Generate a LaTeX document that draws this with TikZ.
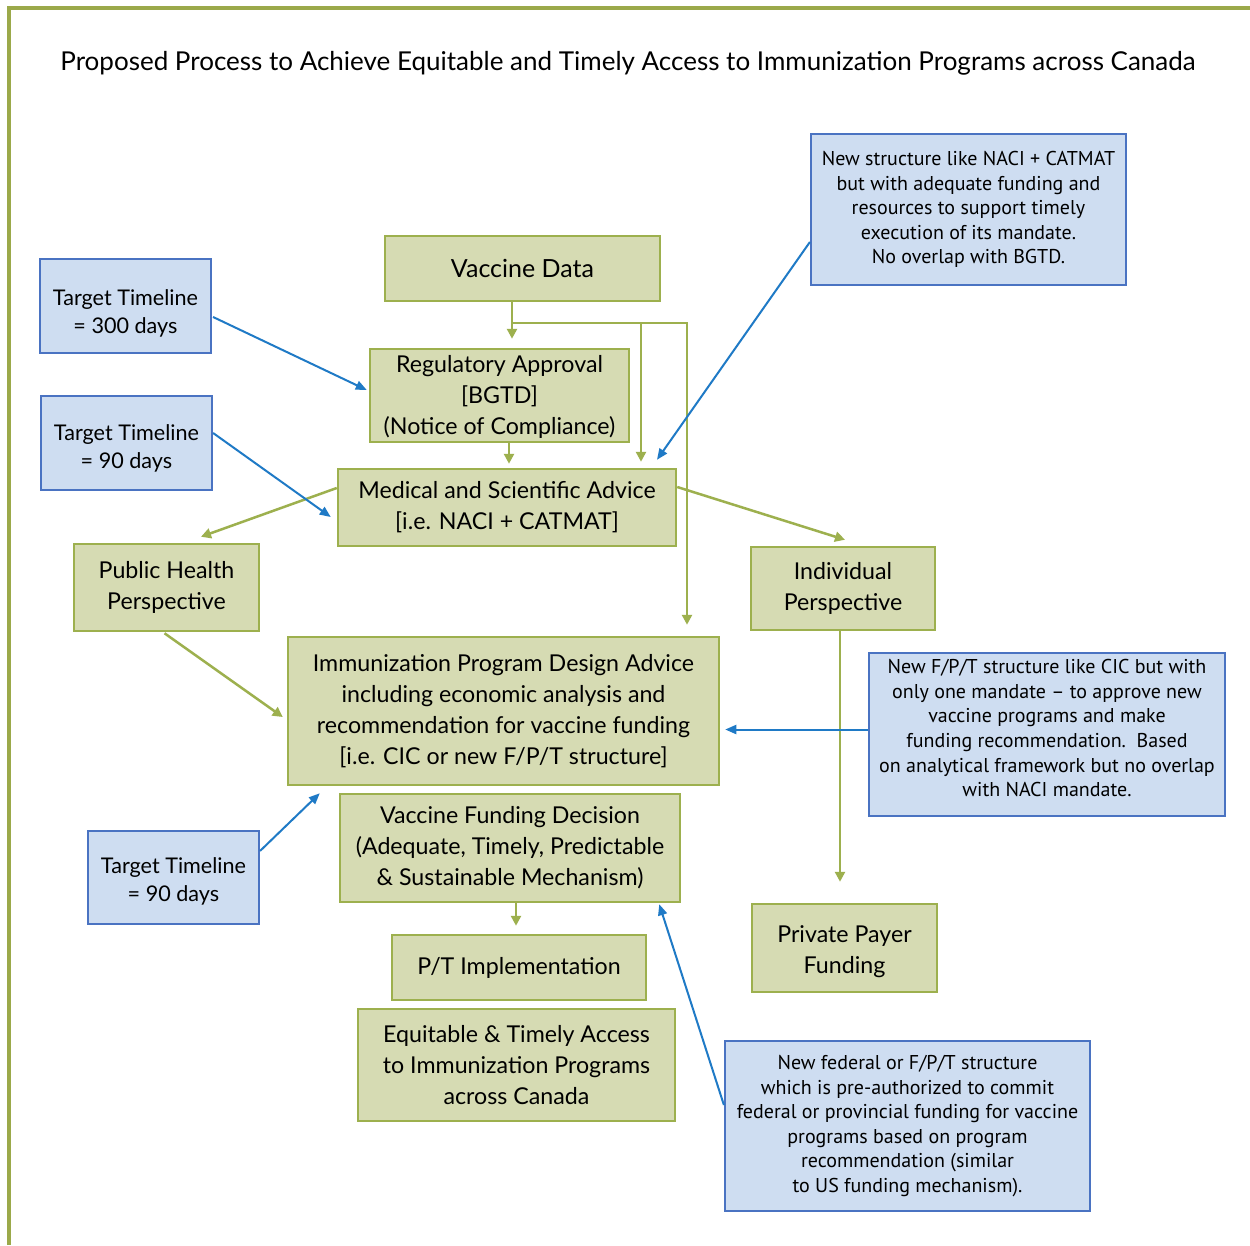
\documentclass[tikz,border=0pt]{standalone}
\usepackage{fontspec}
\setmainfont{Lato}
\newfontfamily\myr{PT Sans}
\usetikzlibrary{arrows.meta,calc}
\definecolor{gfill}{HTML}{D6DBB3}
\definecolor{gborder}{HTML}{9DB04E}
\definecolor{bfill}{HTML}{CEDDF1}
\definecolor{bborder}{HTML}{4A73C2}
\definecolor{barrowc}{HTML}{1F7AC6}
\definecolor{framec}{HTML}{9BA94A}
\begin{document}
\begin{tikzpicture}[x=1pt,y=-1pt,
  gbox/.style={draw=gborder,fill=gfill,line width=2.5pt,align=center,inner sep=0pt,
    font=\fontsize{23.2}{31}\selectfont},
  ttbox/.style={draw=bborder,fill=bfill,line width=2.2pt,align=center,inner sep=0pt,
    font=\fontsize{21.6}{28}\selectfont},
  bbox/.style={draw=bborder,fill=bfill,line width=2.2pt,align=center,inner sep=0pt,
    font=\myr\fontsize{20}{24.6}\selectfont},
  garrow/.style={draw=gborder,line width=2.5pt,-{Triangle[length=10pt,width=10pt]}},
  barrow/.style={draw=barrowc,line width=2pt,-{Triangle[length=11pt,width=9pt]}}]
\useasboundingbox (0,0) rectangle (1250,1245);
\fill[white] (0,0) rectangle (1250,1245);
% frame
\draw[framec,line width=4pt] (9,1245) -- (9,8) -- (1250,8);
% title
\node (title) at (628,63) {\fontsize{26}{30}\selectfont Proposed Process to Achieve Equitable and Timely Access to Immunization Programs across Canada};
% green boxes
\node[gbox,minimum width=275pt,minimum height=65pt] (vd) at (522.5,268.5) {\fontsize{25}{31}\selectfont Vaccine Data};
\node[gbox,minimum width=259pt,minimum height=93pt] (reg) at (499.5,395.5) {\rule{0pt}{20pt}Regulatory Approval\\ {[BGTD]}\\ (Notice of Compliance)};
\node[gbox,minimum width=338pt,minimum height=77pt] (med) at (507,507.5) {Medical and Scientific Advice\\ {[i.e. NACI + CATMAT]}};
\node[gbox,minimum width=185pt,minimum height=87pt] (ph) at (166.5,587.5) {Public Health\\ Perspective};
\node[gbox,minimum width=184pt,minimum height=83pt] (ind) at (843,588.5) {Individual\\ Perspective};
\node[gbox,minimum width=431pt,minimum height=148pt] (ipd) at (503.5,711) {Immunization Program Design Advice\\ including economic analysis and\\ recommendation for vaccine funding\\ {[i.e. CIC or new F/P/T structure]}};
\node[gbox,minimum width=340pt,minimum height=108pt] (vfd) at (510,848) {Vaccine Funding Decision\\ (Adequate, Timely, Predictable\\ \& Sustainable Mechanism)};
\node[gbox,minimum width=254pt,minimum height=65pt] (pt) at (519,967.5) {P/T Implementation};
\node[gbox,minimum width=317pt,minimum height=112pt] (eq) at (516.5,1065) {Equitable \& Timely Access\\ to Immunization Programs\\ across Canada};
\node[gbox,minimum width=185pt,minimum height=88pt] (ppf) at (844.5,948) {\rule{0pt}{24pt}Private Payer\\ Funding};
% blue boxes
\node[ttbox,minimum width=171pt,minimum height=94pt] (tt1) at (125.5,306) {\rule{0pt}{30pt}Target Timeline\\ = 300 days};
\node[ttbox,minimum width=171pt,minimum height=94pt] (tt2) at (126.5,443) {\rule{0pt}{26pt}Target Timeline\\ = 90 days};
\node[ttbox,minimum width=171pt,minimum height=93pt] (tt3) at (173.5,877.5) {\rule{0pt}{24pt}Target Timeline\\ = 90 days};
\node[bbox,minimum width=315pt,minimum height=151pt] (ns) at (968.5,209.5) {New structure like NACI + CATMAT\\ but with adequate funding and\\ resources to support timely\\ execution of its mandate.\\ No overlap with BGTD.};
\node[bbox,minimum width=356pt,minimum height=163pt] (nfpt) at (1047,734.5) {New F/P/T structure like CIC but with\\ only one mandate – to approve new\\ vaccine programs and make\\ funding recommendation.\ \ Based\\ on analytical framework but no overlap\\ with NACI mandate.\rule[-13pt]{0pt}{1pt}};
\node[bbox,minimum width=365pt,minimum height=170pt] (nfed) at (907.5,1126) {New federal or F/P/T structure\\ which is pre-authorized to commit\\ federal or provincial funding for vaccine\\ programs based on program\\ recommendation (similar\\ to US funding mechanism).};
% green connectors
\coordinate (br) at (512,323);
\coordinate (br2) at (641,323);
\draw[garrow] ($(vd.south)+(-10.5,0)$) -- ($(reg.north)+(12.5,-9)$);
\draw[garrow] (br) -| ($(ipd.north)+(183.5,-11)$);
\draw[garrow] (br2) -- ($(med.north)+(134,-6)$);
\draw[garrow] ($(reg.south)+(9.5,0)$) -- ($(med.north)+(2,-4)$);
\draw[garrow] ($(med.west)+(0,-19.5)$) -- ($(ph.north)+(34.5,-6)$);
\draw[garrow] ($(med.east)+(0,-20.5)$) -- ($(ind.north)+(2,-6)$);
\draw[garrow] ($(ph.south)+(-2,1)$) -- ($(ipd.west)+(-4,6)$);
\draw[garrow] ($(ind.south)+(-3,0)$) -- ($(ppf.north)+(-4.5,-21)$);
\draw[garrow] ($(vfd.south)+(6,0)$) -- ($(pt.north)+(-3,-8)$);
% blue connectors
\draw[barrow] ($(tt1.east)+(1,11)$) -- ($(reg.west)+(-2,-5.5)$);
\draw[barrow] ($(tt2.east)+(0,-10)$) -- ($(med.west)+(-6,9.5)$);
\draw[barrow] ($(ns.west)+(0,32.5)$) -- ($(med.north)+(150,-8)$);
\draw[barrow] ($(nfpt.west)+(0,-5)$) -- ($(ipd.east)+(5,18.5)$);
\draw[barrow] ($(tt3.north east)+(0,21)$) -- ($(ipd.south west)+(33,7)$);
\draw[barrow] ($(nfed.west)+(0,-21)$) -- ($(vfd.south east)+(-22,1)$);
\end{tikzpicture}
\end{document}
